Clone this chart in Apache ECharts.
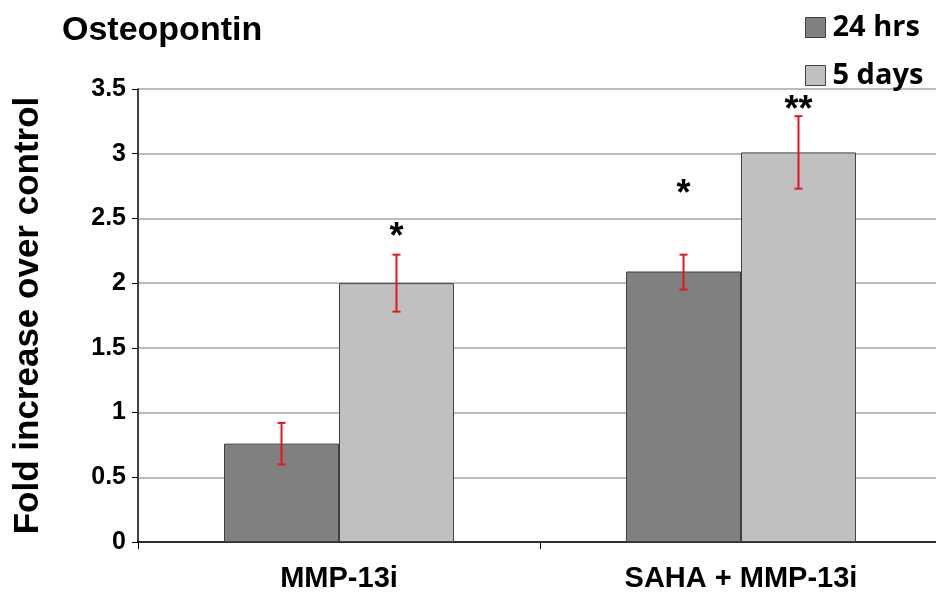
<!DOCTYPE html>
<html><head><meta charset="utf-8">
<script src="https://cdn.jsdelivr.net/npm/echarts@6/dist/echarts.min.js"></script>
<style>html,body{margin:0;padding:0;background:#fff}#c{width:936px;height:595px}</style>
</head><body><div id="c"></div>
<script>
var categories = ['MMP-13i', 'SAHA + MMP-13i'];
var seriesNames = ['24 hrs', '5 days'];
var hrs24 = [0.76, 2.09];
var days5 = [2.0, 3.01];
var err24Low = [0.60, 1.95];
var err24High = [0.92, 2.22];
var err5Low = [1.78, 2.73];
var err5High = [2.22, 3.29];
var stars24 = ['', '*'];
var stars5 = ['*', '**'];
var stars24Y = [null, 2.68];
var stars5Y = [2.35, 3.33];

var GAP = 0.428;
function offsetFor(api, side) {
  var w = api.size([1, 0])[0];
  var bw = w * (1 - GAP) / 2;
  return side * bw / 2;
}
function errSeries(low, high, side) {
  return {
    type: 'custom', z: 10, silent: true,
    data: categories.map(function (c, i) { return [i, low[i], high[i]]; }),
    renderItem: function (params, api) {
      var dx = offsetFor(api, side);
      var p1 = api.coord([api.value(0), api.value(1)]);
      var p2 = api.coord([api.value(0), api.value(2)]);
      var x = p1[0] + dx;
      var style = { stroke: '#e8141b', lineWidth: 2 };
      return { type: 'group', children: [
        { type: 'line', shape: { x1: x, y1: p1[1], x2: x, y2: p2[1] }, style: style },
        { type: 'line', shape: { x1: x - 4, y1: p1[1], x2: x + 4, y2: p1[1] }, style: style },
        { type: 'line', shape: { x1: x - 4, y1: p2[1], x2: x + 4, y2: p2[1] }, style: style }
      ]};
    }
  };
}
function starSeries(labels, ys, side) {
  return {
    type: 'custom', z: 11, silent: true,
    data: categories.map(function (c, i) { return [i, ys[i] == null ? 0 : ys[i], labels[i]]; }),
    renderItem: function (params, api) {
      var i = params.dataIndex;
      if (!labels[i]) return null;
      var dx = offsetFor(api, side);
      var p = api.coord([api.value(0), api.value(1)]);
      return { type: 'text', style: { x: p[0] + dx, y: p[1], text: labels[i], align: 'center', verticalAlign: 'middle',
        fill: '#000', font: 'bold 36px Liberation Sans' } };
    }
  };
}

var chart = echarts.init(document.getElementById('c'));
chart.setOption({
  animation: false,
  backgroundColor: '#fff',
  title: { text: 'Osteopontin', left: 57, top: 9,
    textStyle: { fontFamily: 'Liberation Sans', fontWeight: 'bold', fontSize: 34, color: '#000' } },
  legend: {
    orient: 'vertical', left: 800, top: 8, itemWidth: 20, itemHeight: 20, itemGap: 19,
    icon: 'rect',
    data: seriesNames,
    textStyle: { fontFamily: 'Open Sans', fontWeight: 'bold', fontSize: 29, color: '#000', padding: [0, 0, 0, 2] },
    itemStyle: { borderColor: '#404040', borderWidth: 1 }
  },
  grid: { left: 138, top: 89, width: 804, bottom: 53, outerBoundsMode: 'none' },
  xAxis: {
    type: 'category', data: categories,
    axisLine: { lineStyle: { color: '#000', width: 1.5 } },
    axisTick: { show: true, length: 7, lineStyle: { color: '#000' } },
    axisLabel: { fontFamily: 'Liberation Sans', fontWeight: 'bold', fontSize: 29, color: '#000', margin: 22 }
  },
  yAxis: {
    type: 'value', min: 0, max: 3.5, interval: 0.5,
    name: 'Fold increase over control', nameLocation: 'middle', nameGap: 92,
    nameTextStyle: { fontFamily: 'Liberation Sans', fontWeight: 'bold', fontSize: 35, color: '#000' },
    axisLine: { show: true, lineStyle: { color: '#000', width: 1.5 } },
    axisTick: { show: true, length: 6, lineStyle: { color: '#000' } },
    axisLabel: { fontFamily: 'Liberation Sans', fontWeight: 'bold', fontSize: 25, color: '#000', margin: 12,
      formatter: function (v) { return String(v); } },
    splitLine: { lineStyle: { color: '#a6a6a6', width: 1.5 } }
  },
  series: [
    { name: seriesNames[0], type: 'bar', data: hrs24, barGap: '0%', barCategoryGap: (GAP * 100) + '%',
      itemStyle: { color: '#808080', borderColor: '#404040', borderWidth: 1 } },
    { name: seriesNames[1], type: 'bar', data: days5, barGap: '0%', barCategoryGap: (GAP * 100) + '%',
      itemStyle: { color: '#c0c0c0', borderColor: '#404040', borderWidth: 1 } },
    errSeries(err24Low, err24High, -1),
    errSeries(err5Low, err5High, 1),
    starSeries(stars24, stars24Y, -1),
    starSeries(stars5, stars5Y, 1)
  ]
});
</script></body></html>
